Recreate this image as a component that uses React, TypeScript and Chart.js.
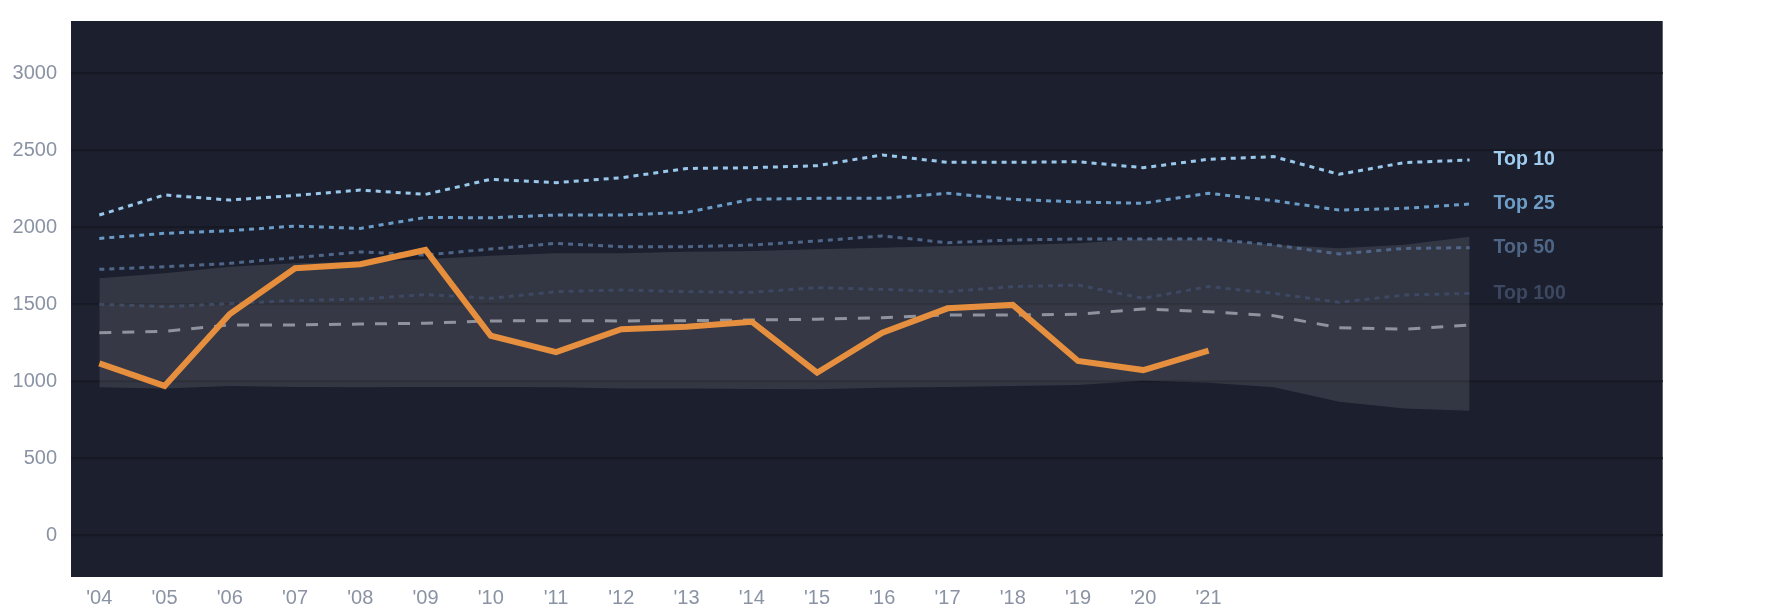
import { useEffect, useRef } from "react";
import Chart from "chart.js/auto";

const years = [
  2004, 2005, 2006, 2007, 2008, 2009, 2010, 2011, 2012, 2013, 2014,
  2015, 2016, 2017, 2018, 2019, 2020, 2021, 2022, 2023, 2024, 2025,
];
const xTickYears = [
  2004, 2005, 2006, 2007, 2008, 2009, 2010, 2011, 2012, 2013, 2014,
  2015, 2016, 2017, 2018, 2019, 2020, 2021,
];
const yTickValues = [0, 500, 1000, 1500, 2000, 2500, 3000];

const top10 = [
  2078, 2208, 2175, 2205, 2240, 2212, 2310, 2288, 2320, 2380, 2385,
  2398, 2468, 2420, 2420, 2424, 2385, 2440, 2457, 2342, 2418, 2435,
];
const top25 = [
  1926, 1959, 1976, 2006, 1991, 2062, 2060, 2078, 2078, 2095, 2180,
  2186, 2186, 2219, 2180, 2162, 2154, 2219, 2171, 2110, 2121, 2149,
];
const top50 = [
  1725, 1742, 1764, 1801, 1838, 1818, 1857, 1894, 1872, 1872, 1883,
  1909, 1942, 1898, 1916, 1922, 1922, 1922, 1883, 1825, 1861, 1866,
];
const top100 = [
  1498, 1483, 1504, 1522, 1532, 1561, 1537, 1580, 1591, 1580, 1576,
  1606, 1595, 1580, 1613, 1623, 1537, 1613, 1569, 1511, 1558, 1569,
];
const median = [
  1314, 1323, 1364, 1364, 1370, 1375, 1390, 1392, 1390, 1392, 1396,
  1401, 1411, 1429, 1429, 1433, 1468, 1450, 1424, 1346, 1336, 1364,
];
const bandUpper = [
  1667, 1699, 1742, 1764, 1775, 1790, 1814, 1829, 1829, 1840, 1844,
  1855, 1866, 1877, 1883, 1894, 1922, 1918, 1885, 1862, 1885, 1937,
];
const bandLower = [
  959, 952, 967, 961, 959, 961, 961, 959, 952, 952, 948,
  946, 957, 961, 967, 974, 1002, 989, 959, 866, 822, 807,
];
const team = [
  1115, 968, 1435, 1732, 1758, 1851, 1294, 1188, 1336, 1353, 1385,
  1054, 1314, 1472, 1494, 1130, 1071, 1197,
];

const seriesLabels = [
  { text: "Top 10", values: top10, color: "#a0ccf0" },
  { text: "Top 25", values: top25, color: "#6e9dc8" },
  { text: "Top 50", values: top50, color: "#4f6586" },
  { text: "Top 100", values: top100, color: "#3c4760" },
];

const toPoints = (values: number[]) =>
  values.map((v, i) => ({ x: years[i], y: v }));

const plotBackground = {
  id: "plotBackground",
  beforeDraw(chart: any) {
    const { ctx, chartArea } = chart;
    ctx.save();
    ctx.fillStyle = "#1c202e";
    ctx.fillRect(chartArea.left, chartArea.top, chartArea.width, chartArea.height);
    ctx.restore();
  },
};

const endLabels = {
  id: "endLabels",
  afterDatasetsDraw(chart: any) {
    const { ctx, scales, chartArea } = chart;
    ctx.save();
    ctx.font = "bold 19.5px 'Liberation Sans', Arial, sans-serif";
    ctx.textBaseline = "middle";
    ctx.textAlign = "left";
    seriesLabels.forEach((s) => {
      const last = s.values.length - 1;
      const x = scales.x.getPixelForValue(years[last]) + 24;
      const y = scales.y.getPixelForValue(s.values[last]);
      ctx.fillStyle = s.color;
      ctx.fillText(s.text, x, y);
    });
    // faint horizontal band between 1000 and 1500
    const y1 = scales.y.getPixelForValue(1500);
    const y2 = scales.y.getPixelForValue(1000);
    ctx.fillStyle = "rgba(255,255,255,0.015)";
    ctx.fillRect(chartArea.left, y1, chartArea.width, y2 - y1);
    ctx.restore();
  },
};

export default function App() {
  const canvasRef = useRef<HTMLCanvasElement | null>(null);
  const chartRef = useRef<Chart | null>(null);

  useEffect(() => {
    if (!canvasRef.current) return;
    Chart.defaults.font.family = "'Liberation Sans', Arial, sans-serif";

    const dotted = (values: number[], color: string, order: number) => ({
      data: toPoints(values),
      borderColor: color,
      borderWidth: 3,
      borderDash: [5, 5],
      pointRadius: 0,
      fill: false,
      order,
    });

    chartRef.current = new Chart(canvasRef.current, {
      type: "line",
      data: {
        datasets: [
          {
            data: toPoints(bandLower),
            borderWidth: 0,
            pointRadius: 0,
            fill: false,
            order: 20,
          },
          {
            data: toPoints(bandUpper),
            borderWidth: 0,
            pointRadius: 0,
            backgroundColor: "rgba(255,255,255,0.1)",
            fill: 0,
            order: 19,
          },
          dotted(top100, "#3d4962", 6),
          dotted(top50, "#4f6688", 5),
          dotted(top25, "#6b9bc7", 4),
          dotted(top10, "#9ac8ec", 3),
          {
            data: toPoints(median),
            borderColor: "#8d929d",
            borderWidth: 3,
            borderDash: [12, 11],
            pointRadius: 0,
            fill: false,
            order: 2,
          },
          {
            data: toPoints(team),
            borderColor: "#e68e3b",
            borderWidth: 6,
            pointRadius: 0,
            fill: false,
            order: 0,
          },
        ] as any,
      },
      options: {
        animation: false,
        responsive: true,
        maintainAspectRatio: false,
        layout: {
          padding: { left: 0, top: 21, right: 122.3, bottom: 0 },
        },
        plugins: {
          legend: { display: false },
          tooltip: { enabled: false },
        },
        scales: {
          x: {
            type: "linear",
            min: 2003.566,
            max: 2027.96,
            border: { display: false },
            grid: { display: false, drawTicks: false },
            afterBuildTicks: (scale: any) => {
              scale.ticks = xTickYears.map((v) => ({ value: v }));
            },
            afterFit: (scale: any) => {
              scale.height = 37;
            },
            ticks: {
              color: "#8a93a4",
              font: { size: 20 },
              padding: 9,
              maxRotation: 0,
              autoSkip: false,
              callback: (v: any) => "'" + String(v).slice(2),
            },
          },
          y: {
            type: "linear",
            min: -272.7,
            max: 3337.7,
            border: { display: false },
            grid: {
              color: "#161923",
              lineWidth: 2.3,
              drawTicks: false,
            },
            afterBuildTicks: (scale: any) => {
              scale.ticks = yTickValues.map((v) => ({ value: v }));
            },
            afterFit: (scale: any) => {
              scale.width = 71;
              scale.paddingTop = 0;
              scale.paddingBottom = 0;
            },
            ticks: {
              color: "#8a93a4",
              font: { size: 20 },
              padding: 14,
              callback: (v: any) => String(v),
            },
          },
        },
      },
      plugins: [plotBackground, endLabels],
    });

    return () => {
      chartRef.current?.destroy();
      chartRef.current = null;
    };
  }, []);

  return (
    <div
      style={{
        position: "fixed",
        left: 0,
        top: 0,
        width: "1785px",
        height: "614px",
        background: "#ffffff",
      }}
    >
      <canvas ref={canvasRef} />
    </div>
  );
}
